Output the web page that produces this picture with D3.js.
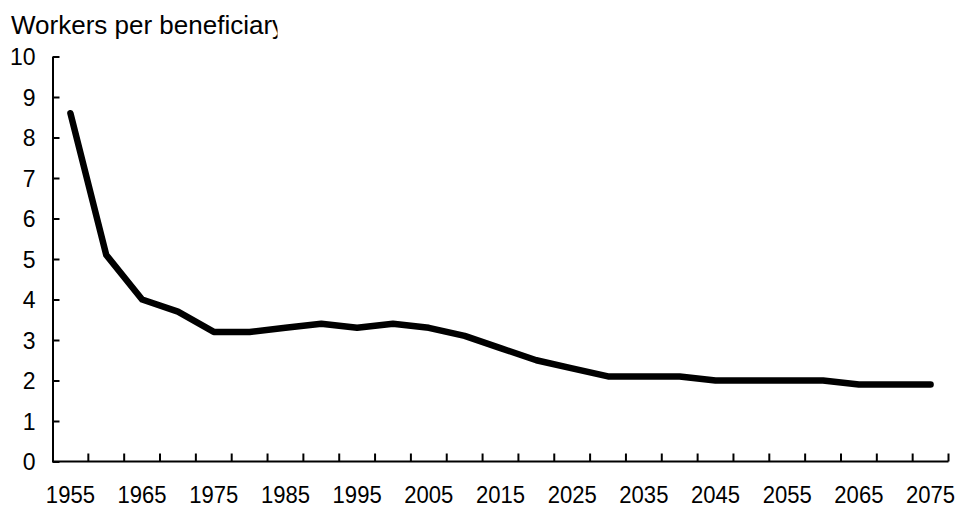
<!DOCTYPE html>
<html>
<head>
<meta charset="utf-8">
<script src="https://cdnjs.cloudflare.com/ajax/libs/d3/7.8.5/d3.min.js"></script>
<style>
  html, body { margin: 0; padding: 0; background: #fff; }
  svg { display: block; }
  text { font-family: Arial, "Liberation Sans", sans-serif; fill: #000; }
</style>
</head>
<body>
<div id="chart"></div>
<script>
const years = [1955,1960,1965,1970,1975,1980,1985,1990,1995,2000,2005,2010,2015,2020,2025,2030,2035,2040,2045,2050,2055,2060,2065,2070,2075];
const workersPerBeneficiary = [8.6,5.1,4.0,3.7,3.2,3.2,3.3,3.4,3.3,3.4,3.3,3.1,2.8,2.5,2.3,2.1,2.1,2.1,2.0,2.0,2.0,2.0,1.9,1.9,1.9];
const yTicks = [0,1,2,3,4,5,6,7,8,9,10];
const xLabelYears = [1955,1965,1975,1985,1995,2005,2015,2025,2035,2045,2055,2065,2075];
const title = "Workers per beneficiary";

const W = 961, H = 508;
const svg = d3.select("#chart").append("svg").attr("width", W).attr("height", H);

const x = d3.scaleBand().domain(years).range([52.5, 948.5]).padding(0);
const y = d3.scaleLinear().domain([0, 10]).range([461.5, 56.5]);

// title (clipped as in reference)
svg.append("clipPath").attr("id", "tclip").append("rect")
  .attr("x", 0).attr("y", 0).attr("width", 277.5).attr("height", 45);
svg.append("text").attr("clip-path", "url(#tclip)")
  .attr("x", 11).attr("y", 34).style("font-size", "26px").text(title);

// y axis
const yAxis = d3.axisLeft(y).tickValues(yTicks).tickSizeInner(-7).tickSizeOuter(0).tickPadding(17);
const gy = svg.append("g").attr("transform", `translate(${x.range()[0]},0)`).call(yAxis);
gy.select(".domain").attr("stroke", "#000").attr("stroke-width", 2);
gy.selectAll(".tick line").attr("stroke", "#000").attr("stroke-width", 2);
gy.selectAll(".tick text").style("font-size", "23px").attr("font-family", null).attr("dy", "0.36em");

// x axis line
svg.append("line")
  .attr("x1", x.range()[0]).attr("x2", x.range()[1])
  .attr("y1", y(0)).attr("y2", y(0))
  .attr("stroke", "#000").attr("stroke-width", 2);

// x ticks at category boundaries
const boundaries = years.map(d => x(d)).concat([x(years[years.length-1]) + x.bandwidth()]);
svg.append("g").selectAll("line").data(boundaries.slice(1)).join("line")
  .attr("x1", d => d).attr("x2", d => d)
  .attr("y1", y(0)).attr("y2", y(0) - 8)
  .attr("stroke", "#000").attr("stroke-width", 2);

// x labels
svg.append("g").selectAll("text").data(xLabelYears).join("text")
  .attr("transform", d => `translate(${x(d) + x.bandwidth() / 2},503.3) scale(0.92,1)`)
  .attr("text-anchor", "middle")
  .style("font-size", "24px")
  .text(d => d);

// line
const line = d3.line()
  .x((d, i) => x(years[i]) + x.bandwidth() / 2)
  .y(d => y(d));
svg.append("path").datum(workersPerBeneficiary)
  .attr("d", line)
  .attr("fill", "none")
  .attr("stroke", "#000")
  .attr("stroke-width", 6.5)
  .attr("stroke-linejoin", "round")
  .attr("stroke-linecap", "round");
</script>
</body>
</html>
